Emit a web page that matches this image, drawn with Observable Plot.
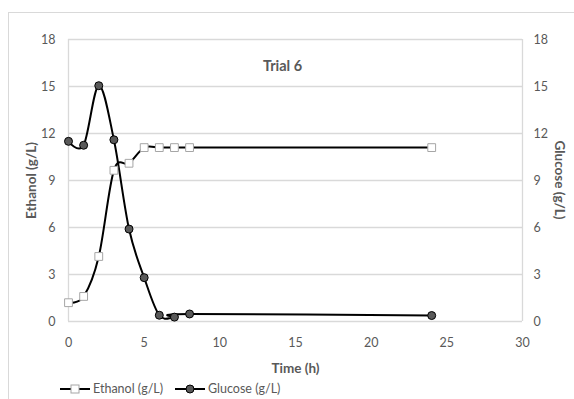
<!DOCTYPE html>
<html>
<head>
<meta charset="utf-8">
<script src="https://cdn.jsdelivr.net/npm/d3@7"></script>
<script src="https://cdn.jsdelivr.net/npm/@observablehq/plot@0.6"></script>
<style>
  html, body { margin: 0; padding: 0; background: #fff; }
  #wrap { position: relative; width: 574px; height: 399px; overflow: hidden; font-family: Lato, "Open Sans", sans-serif; }
  #border { position: absolute; left: 8px; top: 12px; width: 700px; height: 500px; border: 1px solid #d9d9d9; box-sizing: border-box; }
  #chart { position: absolute; left: 0; top: 0; }
  #rlabel { position: absolute; left: 560px; top: 180px; transform: translate(-50%, -50%) rotate(90deg); font-weight: bold; font-size: 13.5px; color: #595959; white-space: nowrap; }
  #legend { position: absolute; left: 0; top: 377px; height: 23px; width: 574px; font-size: 12.5px; color: #595959; }
  .item { position: absolute; top: 0; height: 23px; display: flex; align-items: center; }
</style>
</head>
<body>
<div id="wrap">
  <div id="border"></div>
  <div id="chart"></div>
  <div id="rlabel">Glucose (g/L)</div>
  <div id="legend"></div>
</div>
<script>
const times = [0, 1, 2, 3, 4, 5, 6, 7, 8, 24];
const ethanol = [1.2, 1.6, 4.15, 9.65, 10.1, 11.1, 11.1, 11.1, 11.1, 11.1];
const glucose = [11.5, 11.25, 15.05, 11.6, 5.9, 2.8, 0.4, 0.28, 0.48, 0.38];
const xTicks = [0, 5, 10, 15, 20, 25, 30];
const yTicks = [0, 3, 6, 9, 12, 15, 18];
const seriesNames = ["Ethanol (g/L)", "Glucose (g/L)"];

const ethData = times.map((t, i) => ({t, v: ethanol[i]}));
const gluData = times.map((t, i) => ({t, v: glucose[i]}));

const gray = "#595959";
const grid = "#d9d9d9";

const plot = Plot.plot({
  width: 574,
  height: 376,
  marginLeft: 68,
  marginRight: 52,
  marginTop: 39,
  marginBottom: 55,
  style: {fontFamily: "Lato, 'Open Sans', sans-serif", fontSize: "12.5px", color: gray, background: "transparent"},
  x: {domain: [0, 30]},
  y: {domain: [0, 18]},
  marks: [
    Plot.ruleY(yTicks, {stroke: grid, strokeWidth: 1.3}),
    Plot.ruleX([0, 30], {stroke: grid, strokeWidth: 1.3}),
    Plot.axisX({ticks: xTicks, tickSize: 0, tickPadding: 17, label: "Time (h)", labelArrow: false, labelAnchor: "center", labelOffset: 51, fill: gray, fontSize: 12.5}),
    Plot.axisY({ticks: yTicks, tickSize: 0, tickPadding: 13, label: "Ethanol (g/L)", labelArrow: false, labelAnchor: "center", labelOffset: 42, fill: gray}),
    Plot.axisY({anchor: "right", ticks: yTicks, tickSize: 0, tickPadding: 11, label: null, fill: gray}),
    Plot.line(ethData, {x: "t", y: "v", curve: "cardinal", tension: 0, stroke: "#000", strokeWidth: 2}),
    Plot.line(gluData, {x: "t", y: "v", curve: "cardinal", tension: 0, stroke: "#000", strokeWidth: 2}),
    Plot.dot(ethData, {x: "t", y: "v", symbol: "square", r: 4.4, fill: "#fff", stroke: "#a6a6a6", strokeWidth: 1}),
    Plot.dot(gluData, {x: "t", y: "v", symbol: "circle", r: 4, fill: "#595959", stroke: "#000", strokeWidth: 1}),
    Plot.text(["Trial 6"], {frameAnchor: "top", dy: 21, dx: -13, fontWeight: "bold", fontSize: 14.5, fill: gray})
  ]
});
d3.select(plot).selectAll("[aria-label='x-axis label'] text, [aria-label='y-axis label'] text")
  .attr("font-weight", "bold").attr("font-size", 13.5);
document.getElementById("chart").appendChild(plot);

// legend
const legend = document.getElementById("legend");
const lx = [60, 175];
seriesNames.forEach((name, i) => {
  const item = document.createElement("div");
  item.className = "item";
  item.style.left = lx[i] + "px";
  const sym = i === 0
    ? `<rect x="11" y="6" width="8" height="8" fill="#fff" stroke="#a6a6a6"/>`
    : `<circle cx="15" cy="10" r="4" fill="#595959" stroke="#000"/>`;
  item.innerHTML = `<svg width="31" height="20"><line x1="0" x2="30" y1="10" y2="10" stroke="#000" stroke-width="2"/>${sym}</svg><span style="margin-left:2px">${name}</span>`;
  legend.appendChild(item);
});
</script>
</body>
</html>
